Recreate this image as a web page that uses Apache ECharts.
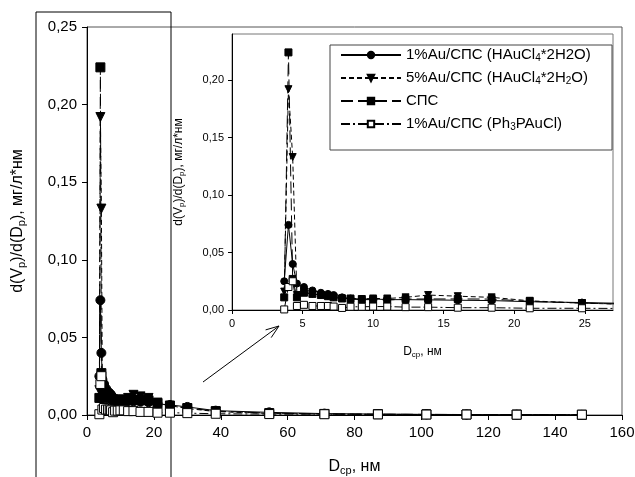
<!DOCTYPE html>
<html>
<head>
<meta charset="utf-8">
<script src="https://cdn.jsdelivr.net/npm/echarts@6/dist/echarts.min.js"></script>
<style>
html, body { margin: 0; padding: 0; background: #fff; }
#chart { width: 635px; height: 477px; }
</style>
</head>
<body>
<div id="chart"></div>
<script>
// средний диаметр пор, нм
var dcp = [3.7, 4.0, 4.3, 4.6, 5.1, 5.7, 6.3, 6.8, 7.2, 7.8, 8.4, 9.2, 10.0, 11.0, 12.3, 13.9, 16.0, 18.4, 21.1, 24.8, 30.0, 38.5, 54.5, 71.0, 87.0, 101.5, 113.5, 128.5, 148.0];
// 1%Au/СПС (HAuCl4*2H2O)
var au1 = [0.025, 0.074, 0.040, 0.023, 0.020, 0.017, 0.015, 0.014, 0.013, 0.011, 0.010, 0.0095, 0.0097, 0.009, 0.009, 0.0088, 0.0085, 0.0082, 0.0072, 0.0065, 0.0052, 0.0028, 0.0017, 0.0009, 0.0006, 0.0004, 0.0003, 0.0002, 0.0001];
// 5%Au/СПС (HAuCl4*2H2O)
var au5 = [0.016, 0.192, 0.133, 0.013, 0.016, 0.014, 0.013, 0.012, 0.011, 0.010, 0.010, 0.0095, 0.010, 0.010, 0.011, 0.013, 0.012, 0.011, 0.008, 0.006, 0.0042, 0.0022, 0.001, 0.0006, 0.0004, 0.0003, 0.0002, 0.0002, 0.0001];
// СПС
var sps = [0.011, 0.224, 0.027, 0.011, 0.015, 0.014, 0.013, 0.012, 0.011, 0.010, 0.0095, 0.009, 0.009, 0.0087, 0.0095, 0.0096, 0.0096, 0.0095, 0.0075, 0.006, 0.0045, 0.0025, 0.0012, 0.0007, 0.0005, 0.0004, 0.0003, 0.0002, 0.0001];
// 1%Au/СПС (Ph3PAuCl)
var ph3 = [0.0005, 0.020, 0.025, 0.0035, 0.0045, 0.0035, 0.0035, 0.0035, 0.003, 0.0018, 0.0028, 0.0028, 0.003, 0.003, 0.0025, 0.0025, 0.002, 0.002, 0.0015, 0.0015, 0.0012, 0.0008, 0.0006, 0.0005, 0.0004, 0.0003, 0.0003, 0.0002, 0.0002];

var names = ['au1', 'au5', 'sps', 'ph3'];
var legendText = {
	au1: '1%Au/СПС (HAuCl{s|4}*2H2O)',
	au5: '5%Au/СПС (HAuCl{s|4}*2H{s|2}O)',
	sps: 'СПС',
	ph3: '1%Au/СПС (Ph{s|3}PAuCl)'
};
var insetYTicks = [0, 0.05, 0.10, 0.15, 0.20];
var insetXTicks = [0, 5, 10, 15, 20, 25];

var downTri = 'path://M0,0 L10,0 L5,9 Z';

function pairs(vals) {
	var res = [];
	for (var i = 0; i < dcp.length; i++) {
		res.push([dcp[i], vals[i]]);
	}
	return res;
}

function comma(v) {
	return v.toFixed(2).replace('.', ',');
}

var styles = {
	au1: { data: au1, symbol: 'circle', fill: '#000', dash: 'solid' },
	au5: { data: au5, symbol: downTri, fill: '#000', dash: [5, 3] },
	sps: { data: sps, symbol: 'rect', fill: '#000', dash: [12, 5] },
	ph3: { data: ph3, symbol: 'rect', fill: '#fff', dash: [9, 3, 2, 3] }
};

var series = [];
[0, 1].forEach(function(g) {
	names.forEach(function(n) {
		var s = styles[n];
		series.push({
			name: n,
			type: 'line',
			xAxisIndex: g,
			yAxisIndex: g,
			data: pairs(s.data),
			symbol: s.symbol,
			symbolSize: g == 0 ? 9 : 7,
			showAllSymbol: true,
			clip: true,
			animation: false,
			lineStyle: { color: '#000', width: 1, type: s.dash },
			itemStyle: { color: s.fill, borderColor: '#000', borderWidth: 1 }
		});
	});
});

var subRich = { s: { fontSize: 10, padding: [6, 0, 0, 0] } };
var narrow = 'Liberation Sans Narrow, Liberation Sans, sans-serif';

var chart = echarts.init(document.getElementById('chart'));
chart.setOption({
	animation: false,
	textStyle: { fontFamily: 'Liberation Sans, Arial, sans-serif', color: '#000' },
	grid: [{
		left: 87, right: 13, top: 27, bottom: 62,
		outerBoundsMode: 'none',
		show: true, borderColor: '#555', borderWidth: 1
	}, {
		left: 232, right: 22, top: 34, bottom: 167,
		outerBoundsMode: 'none',
		show: true, borderColor: '#777', borderWidth: 1, backgroundColor: '#fff'
	}],
	xAxis: [{
		gridIndex: 0, type: 'value', min: 0, max: 160, interval: 20,
		name: 'D{s|ср}, нм', nameLocation: 'middle', nameGap: 42,
		nameTextStyle: { fontSize: 16, color: '#000', rich: { s: { fontSize: 11, padding: [8, 0, 0, 0] } } },
		axisLine: { lineStyle: { color: '#000' } },
		axisTick: { lineStyle: { color: '#000' }, length: 5 },
		axisLabel: { fontSize: 15, color: '#000', margin: 10 },
		splitLine: { show: false }
	}, {
		gridIndex: 1, type: 'value', min: 0, max: 27,
		name: 'D{s|ср}, нм', nameLocation: 'middle', nameGap: 35,
		nameTextStyle: { fontSize: 12, color: '#000', rich: { s: { fontSize: 8, padding: [6, 0, 0, 0] } } },
		axisLine: { lineStyle: { color: '#000' } },
		axisTick: { customValues: insetXTicks, lineStyle: { color: '#000' }, length: 4 },
		axisLabel: { customValues: insetXTicks, fontSize: 11, color: '#000', margin: 8 },
		splitLine: { show: false }
	}],
	yAxis: [{
		gridIndex: 0, type: 'value', min: 0, max: 0.25, interval: 0.05,
		name: 'd(V{s|p})/d(D{s|p}), мг/л*нм', nameLocation: 'middle', nameGap: 60,
		nameTextStyle: {
			fontSize: 16, color: '#000', fontFamily: narrow,
			rich: { s: { fontSize: 11, fontFamily: narrow, padding: [8, 0, 0, 0] } }
		},
		axisLine: { show: true, lineStyle: { color: '#000' } },
		axisTick: { show: true, lineStyle: { color: '#000' }, length: 5 },
		axisLabel: { fontSize: 15, color: '#000', margin: 10, formatter: comma },
		splitLine: { show: false }
	}, {
		gridIndex: 1, type: 'value', min: 0, max: 0.24,
		name: 'd(V{s|p})/d(D{s|p}), мг/л*нм', nameLocation: 'middle', nameGap: 46,
		nameTextStyle: { fontSize: 12, color: '#000', rich: { s: { fontSize: 8, padding: [6, 0, 0, 0] } } },
		axisLine: { show: true, lineStyle: { color: '#000' } },
		axisTick: { show: true, customValues: insetYTicks, lineStyle: { color: '#000' }, length: 4 },
		axisLabel: { customValues: insetYTicks, fontSize: 11, color: '#000', margin: 8, formatter: comma },
		splitLine: { show: false }
	}],
	legend: {
		data: names,
		orient: 'vertical',
		left: 340, top: 44,
		itemWidth: 60, itemHeight: 8, itemGap: 1, itemTextGap: 14,
		padding: 0,
		formatter: function(n) { return legendText[n]; },
		textStyle: { fontSize: 15, lineHeight: 22, color: '#000', rich: subRich }
	},
	graphic: [{
		type: 'rect',
		shape: { x: 330, y: 45, width: 282, height: 105 },
		style: { fill: 'none', stroke: '#444', lineWidth: 1 }
	}, {
		type: 'rect',
		shape: { x: 36, y: 12, width: 135, height: 470 },
		style: { fill: 'none', stroke: '#000', lineWidth: 1 }
	}, {
		type: 'line',
		shape: { x1: 203, y1: 382, x2: 279, y2: 326 },
		style: { stroke: '#000', lineWidth: 1 }
	}, {
		type: 'polyline',
		shape: { points: [[265.6, 329.9], [279, 326], [271.2, 337.6]] },
		style: { fill: 'none', stroke: '#000', lineWidth: 1 }
	}],
	series: series
});
</script>
</body>
</html>
